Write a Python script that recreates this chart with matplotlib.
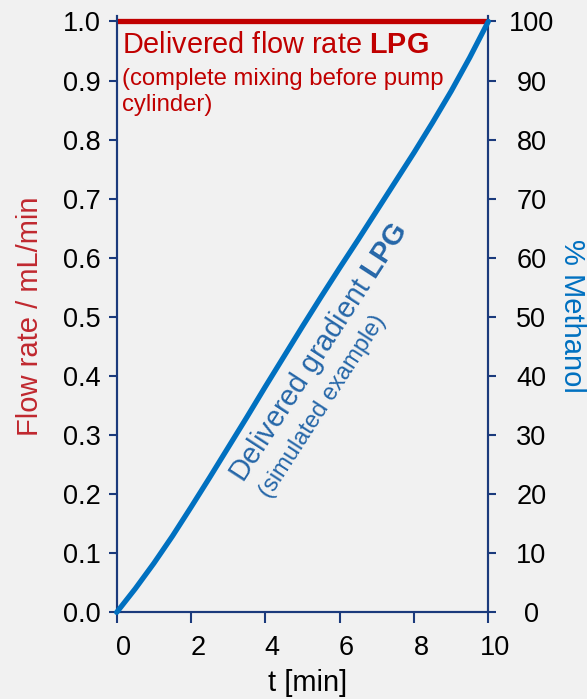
import matplotlib
matplotlib.use("Agg")
import matplotlib.pyplot as plt
from matplotlib.transforms import ScaledTranslation

plt.rcParams["font.family"] = ["Liberation Sans", "DejaVu Sans"]
plt.rcParams["mathtext.fontset"] = "custom"
plt.rcParams["mathtext.rm"] = "Liberation Sans"
plt.rcParams["mathtext.bf"] = "Liberation Sans:bold"

# Time axis (min) and delivered methanol fraction (%)
time_min = [0, 0.5, 1, 1.5, 2, 2.5, 3, 3.5, 4, 4.5, 5, 5.5, 6, 6.5, 7, 7.5, 8, 8.5, 9, 9.5, 10]
methanol_pct = [0, 4.0, 8.3, 12.9, 17.8, 22.8, 27.9, 33.0, 38.2, 43.3, 48.4, 53.4, 58.3,
                63.1, 68.0, 72.9, 77.8, 82.9, 88.2, 93.9, 100]

# Delivered flow rate (mL/min), constant over the run
flow_time = [0, 10]
flow_rate = [1.0, 1.0]

x_ticks = [0, 2, 4, 6, 8, 10]
flow_ticks = [0.0, 0.1, 0.2, 0.3, 0.4, 0.5, 0.6, 0.7, 0.8, 0.9, 1.0]
pct_ticks = [0, 10, 20, 30, 40, 50, 60, 70, 80, 90, 100]

BG = "#f1f1f1"
SPINE = "#1b3a7c"
RED = "#c00000"
RED_LABEL = "#c0282f"
BLUE = "#0070c0"
BLUE_TEXT = "#2566a8"

W, H = 587, 699
fig = plt.figure(figsize=(W / 100, H / 100), dpi=100, facecolor=BG)
ax = fig.add_axes([0.1988, 0.124, 0.6331, 0.8525])
ax.set_facecolor(BG)
ax2 = ax.twinx()

ax.plot(flow_time, flow_rate, color=RED, lw=3.8, solid_capstyle="butt", zorder=3, clip_on=False)
ax2.plot(time_min, methanol_pct, color=BLUE, lw=3.8, solid_capstyle="round",
         solid_joinstyle="round", zorder=4, clip_on=False)

ax.set_xlim(0, 10)
ax.set_ylim(0, 1.0085)
ax2.set_ylim(0, 100.85)

ax.set_xticks(x_ticks)
ax.set_yticks(flow_ticks)
ax.set_yticklabels([f"{v:.1f}" for v in flow_ticks])
ax2.set_yticks(pct_ticks)

for a in (ax, ax2):
    a.spines["top"].set_visible(False)
    for s in a.spines.values():
        s.set_color(SPINE)
        s.set_linewidth(1.5)

TICK_FS = 19.5
ax.tick_params(axis="both", direction="out", width=1.5, color=SPINE,
               labelsize=TICK_FS, labelcolor="black")
ax.tick_params(axis="y", length=6, pad=5.5)
ax.tick_params(axis="x", length=8, pad=8)
ax2.tick_params(axis="y", direction="out", length=6, width=1.5, color=SPINE,
                labelsize=TICK_FS, labelcolor="black", pad=25)
for lab in ax2.get_yticklabels():
    lab.set_horizontalalignment("center")
shift = ScaledTranslation(7 / 100, 0, fig.dpi_scale_trans)
for lab in ax.get_xticklabels():
    lab.set_transform(lab.get_transform() + shift)

LABEL_FS = 21
fig.text(308 / W, 1 - 683 / H, "t [min]", fontsize=LABEL_FS, ha="center", va="center")
fig.text(30.5 / W, 1 - 316 / H, "Flow rate / mL/min", fontsize=LABEL_FS, color=RED_LABEL,
         rotation=90, ha="center", va="center")
fig.text(572.5 / W, 1 - 316 / H, "% Methanol", fontsize=LABEL_FS, color=BLUE,
         rotation=270, ha="center", va="center")

# Annotation for the flow-rate line
ax.text(0.135, 0.9465, r"Delivered flow rate $\bf{LPG}$", fontsize=20.8, color=RED,
        ha="left", va="baseline")
ax.text(0.135, 0.893, "(complete mixing before pump", fontsize=17.2, color=RED,
        ha="left", va="baseline")
ax.text(0.135, 0.848, "cylinder)", fontsize=17.2, color=RED, ha="left", va="baseline")

# Annotation along the gradient curve
ax.text(5.45, 0.4386, r"Delivered gradient $\bf{LPG}$", fontsize=20.8, color=BLUE_TEXT,
        rotation=57, rotation_mode="anchor", ha="center", va="center")
ax.text(5.55, 0.348, "(simulated example)", fontsize=17, color=BLUE_TEXT,
        rotation=57, rotation_mode="anchor", ha="center", va="center")

fig.savefig("out.png", dpi=100, facecolor=BG)
